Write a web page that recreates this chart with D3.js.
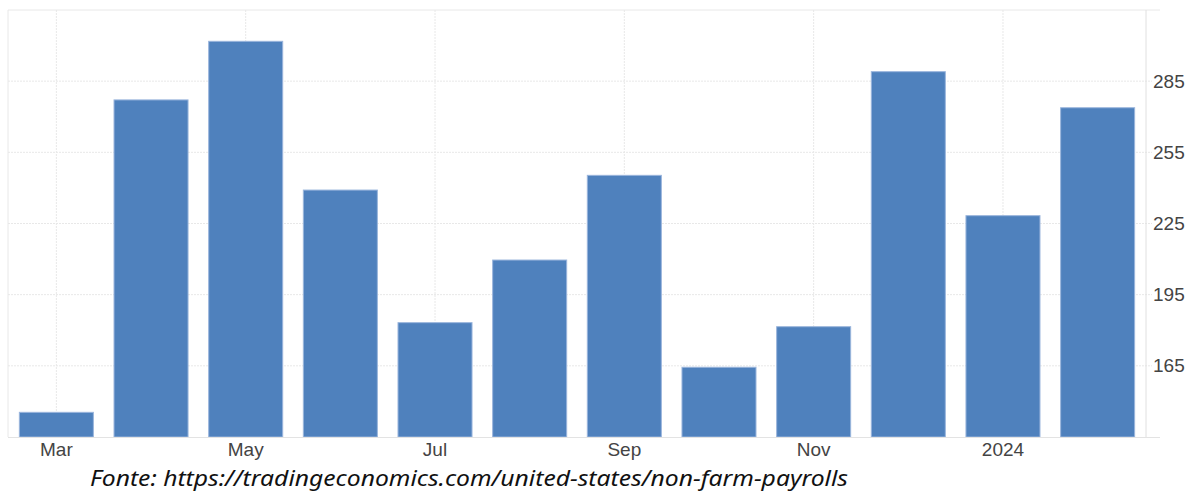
<!DOCTYPE html>
<html>
<head>
<meta charset="utf-8">
<script src="https://cdn.jsdelivr.net/npm/d3@7"></script>
<style>
  body { margin: 0; background: #fff; }
  svg { display: block; }
</style>
</head>
<body>
<script>
var months = ["Mar", "Apr", "May", "Jun", "Jul", "Aug", "Sep", "Oct", "Nov", "Dec", "Jan", "Feb"];
var payrolls = [145.4, 277.1, 301.8, 239.1, 183.2, 209.6, 245.3, 164.4, 181.5, 289, 228.3, 273.8];
var xLabels = ["Mar", "", "May", "", "Jul", "", "Sep", "", "Nov", "", "2024", ""];
var yTicks = [165, 195, 225, 255, 285];

var W = 1199, H = 494;
var plot = { left: 8, right: 1146, top: 10, bottom: 437 };

var svg = d3.select('body').append('svg')
  .attr('width', W)
  .attr('height', H);

var x = d3.scaleBand()
  .domain(months)
  .range([plot.left, plot.right])
  .paddingInner(0.218)
  .paddingOuter(0.12);

var y = d3.scaleLinear()
  .domain([135, 315])
  .range([plot.bottom, plot.top]);

// grid
var grid = svg.append('g');
grid.selectAll('line.h').data(yTicks).enter().append('line')
  .attr('x1', plot.left).attr('x2', plot.right + 6)
  .attr('y1', function(d) { return y(d); })
  .attr('y2', function(d) { return y(d); })
  .style('stroke', '#e8e8e8')
  .style('stroke-dasharray', '2,1');

var labelled = months.filter(function(m, i) { return xLabels[i] !== ""; });
grid.selectAll('line.v').data(labelled).enter().append('line')
  .attr('x1', function(d) { return x(d) + x.bandwidth() / 2; })
  .attr('x2', function(d) { return x(d) + x.bandwidth() / 2; })
  .attr('y1', plot.top).attr('y2', plot.bottom)
  .style('stroke', '#e8e8e8')
  .style('stroke-dasharray', '2,1');

// frame
svg.append('line').attr('x1', plot.left).attr('x2', plot.right + 14)
  .attr('y1', plot.top).attr('y2', plot.top).style('stroke', '#e8e8e8');
svg.append('line').attr('x1', plot.left).attr('x2', plot.left)
  .attr('y1', plot.top).attr('y2', plot.bottom).style('stroke', '#e8e8e8');
svg.append('line').attr('x1', plot.right).attr('x2', plot.right)
  .attr('y1', plot.top).attr('y2', plot.bottom).style('stroke', '#e0e0e0');

// bars
svg.append('g').selectAll('rect').data(payrolls).enter().append('rect')
  .attr('x', function(d, i) { return x(months[i]); })
  .attr('y', function(d) { return y(d); })
  .attr('width', x.bandwidth())
  .attr('height', function(d) { return plot.bottom - y(d); })
  .style('fill', '#4f81bd')
  .style('stroke', '#9ab5dc')
  .style('stroke-width', 1);

svg.append('line').attr('x1', plot.left).attr('x2', plot.right + 14)
  .attr('y1', plot.bottom + 0.5).attr('y2', plot.bottom + 0.5).style('stroke', '#e3e3e3');

// y axis (right)
var yAxis = svg.append('g')
  .attr('transform', 'translate(' + plot.right + ',0)')
  .call(d3.axisRight(y).tickValues(yTicks).tickSize(0).tickPadding(7));
yAxis.select('.domain').remove();
yAxis.selectAll('text')
  .style('font-family', 'Liberation Sans, Arial, sans-serif')
  .style('font-size', '19px')
  .style('fill', '#444');

// x axis
var xAxis = svg.append('g')
  .attr('transform', 'translate(0,' + plot.bottom + ')')
  .call(d3.axisBottom(x).tickSize(0).tickPadding(6)
    .tickFormat(function(d, i) { return xLabels[i]; }));
xAxis.select('.domain').remove();
xAxis.selectAll('text')
  .style('font-family', 'Liberation Sans, Arial, sans-serif')
  .style('font-size', '19px')
  .style('fill', '#444');

// source
svg.append('text')
  .attr('x', 90).attr('y', 486)
  .attr('textLength', 758)
  .attr('lengthAdjust', 'spacingAndGlyphs')
  .style('font-family', 'Noto Sans, sans-serif')
  .style('font-style', 'italic')
  .style('font-size', '22px')
  .style('fill', '#111')
  .text('Fonte: https://tradingeconomics.com/united-states/non-farm-payrolls');
</script>
</body>
</html>
